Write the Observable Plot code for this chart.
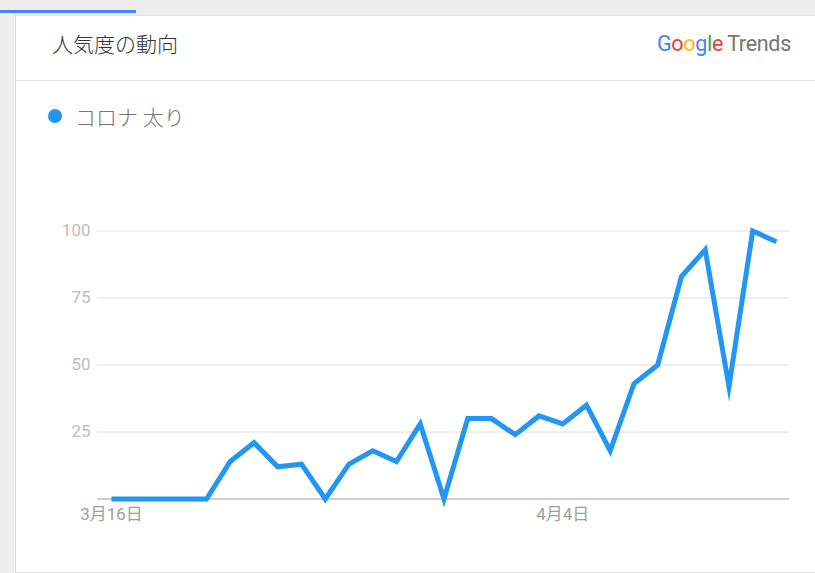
<!DOCTYPE html>
<html>
<head>
<meta charset="utf-8">
<script src="https://cdn.jsdelivr.net/npm/d3@7"></script>
<script src="https://cdn.jsdelivr.net/npm/@observablehq/plot@0.6"></script>
<style>
  html, body { margin: 0; padding: 0; }
  body { width: 815px; height: 573px; background: #eeeeee; position: relative; overflow: hidden; font-family: Roboto, "Noto Sans CJK JP", sans-serif; }
  #bar { position: absolute; left: 0; top: 10px; width: 136px; height: 3px; background: #4285f4; }
  #card { position: absolute; left: 15px; top: 15px; width: 820px; height: 556px; background: #fff; border-left: 1px solid #dcdcdc; border-top: 1px solid #e4e4e4; border-bottom: 1px solid #dcdcdc; }
  #title { position: absolute; left: 52px; top: 29px; font-size: 21px; color: #333; font-family: "Noto Sans CJK JP", sans-serif; font-weight: 300; line-height: 28px; }
  #logo { position: absolute; left: 657px; top: 30px; font-size: 21.5px; font-family: Roboto, sans-serif; letter-spacing: -0.3px; line-height: 28px; }
  #logo .t { color: #757575; margin-left: 4px; }
  #divider { position: absolute; left: 16px; top: 80px; width: 799px; height: 1px; background: #e0e0e0; }
  #legend { position: absolute; left: 48px; top: 102px; font-size: 21px; color: #757575; font-family: "Noto Sans CJK JP", sans-serif; font-weight: 300; display: flex; align-items: center; line-height: 28px; }
  #legend .dot { width: 14px; height: 14px; border-radius: 50%; background: #2196f3; margin-right: 13px; display: inline-block; }
  #chart { position: absolute; left: 0; top: 140px; }
</style>
</head>
<body>
<div id="bar"></div>
<div id="card"></div>
<div id="title">人気度の動向</div>
<div id="logo"><span style="color:#4285f4">G</span><span style="color:#ea4335">o</span><span style="color:#fbbc05">o</span><span style="color:#4285f4">g</span><span style="color:#34a853">l</span><span style="color:#ea4335">e</span><span class="t">Trends</span></div>
<div id="divider"></div>
<div id="legend"><span class="dot"></span>コロナ 太り</div>
<div id="chart"></div>
<script>
const dates = [
  "2020-03-16","2020-03-17","2020-03-18","2020-03-19","2020-03-20","2020-03-21","2020-03-22",
  "2020-03-23","2020-03-24","2020-03-25","2020-03-26","2020-03-27","2020-03-28","2020-03-29",
  "2020-03-30","2020-03-31","2020-04-01","2020-04-02","2020-04-03","2020-04-04","2020-04-05",
  "2020-04-06","2020-04-07","2020-04-08","2020-04-09","2020-04-10","2020-04-11","2020-04-12","2020-04-13"
];
const values = [0,0,0,0,0,14,21,12,13,0,13,18,14,28,0,30,30,24,31,28,35,18,43,50,83,93,42,100,96];
const seriesName = "コロナ 太り";
const yTicks = [25, 50, 75, 100];
const xTickDates = ["2020-03-16", "2020-04-04"];
const xTickLabels = ["3月16日", "4月4日"];

const data = dates.map((d, i) => ({date: new Date(d + "T00:00:00Z"), value: values[i], series: seriesName}));
const day = 86400000;
const x0 = new Date(dates[0] + "T00:00:00Z").getTime() - 0.59 * day;
const x1 = new Date(dates[dates.length - 1] + "T00:00:00Z").getTime() + 0.55 * day;
const tickDates = xTickDates.map(d => new Date(d + "T00:00:00Z"));
const labelFor = new Map(tickDates.map((d, i) => [d.getTime(), xTickLabels[i]]));

const chart = Plot.plot({
  width: 815,
  height: 400,
  marginTop: 90.5,
  marginBottom: 41.5,
  marginLeft: 97,
  marginRight: 26,
  style: {fontFamily: "Roboto, 'Noto Sans CJK JP', sans-serif", background: "transparent"},
  x: {type: "utc", domain: [new Date(x0), new Date(x1)], axis: null},
  y: {domain: [0, 100], axis: null},
  marks: [
    Plot.ruleY(yTicks, {stroke: "#dedede", strokeWidth: 1}),
    Plot.ruleY([0], {stroke: "#9e9e9e", strokeWidth: 1.2}),
    Plot.axisY(yTicks, {tickSize: 0, tickPadding: 7, fontSize: 17, fill: "#bdbdbd", color: "#bdbdbd", label: null, tickFormat: d => String(d)}),
    Plot.axisX(tickDates, {tickSize: 0, tickPadding: 9, fontSize: 17, color: "#9e9e9e", label: null, tickFormat: d => labelFor.get(d.getTime())}),
    Plot.line(data, {x: "date", y: "value", stroke: "#2196f3", strokeWidth: 5, strokeLinejoin: "miter", strokeLinecap: "butt", strokeMiterlimit: 10})
  ]
});
document.getElementById("chart").appendChild(chart);
</script>
</body>
</html>
